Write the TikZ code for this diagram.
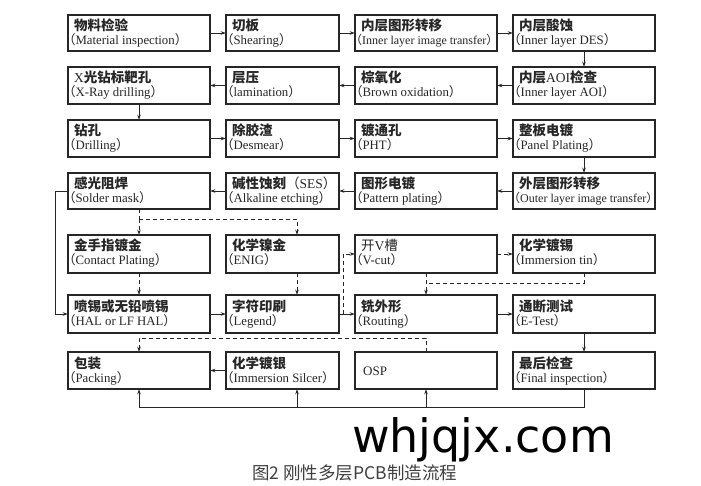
\documentclass[tikz,border=0pt]{standalone}
\usepackage{fontspec}
\setmainfont{Liberation Serif}
\newfontfamily\cjk{Noto Sans CJK SC}
\newfontfamily\cjkh[RawFeature=+halt]{Noto Sans CJK SC}
\newfontfamily\wmfont{DejaVu Sans}
\usetikzlibrary{arrows.meta}
\newcommand\lp{{\cjkh\mdseries （}}
\newcommand\rp{{\cjkh\mdseries ）}}
\newcommand\lat[1]{{\rmfamily\mdseries #1}}
\tikzset{
 pbox/.style={draw=black!85, line width=1.1pt, inner sep=0pt, outer sep=0pt, fill=white},
 zht/.style={inner sep=0pt, font=\cjk\bfseries\fontsize{13.5}{14}\selectfont, text=black!85},
 ent/.style={inner sep=0pt, font=\rmfamily, text=black!85},
 link/.style={draw=black!85, line width=0.8pt},
 arr/.style={link, -{Stealth[length=5.5pt,width=3.6pt]}},
 dsh/.style={dash pattern=on 4pt off 3pt},
}
% [en size] name, x1, y1, x2, y2, zh, en
\newcommand\pstep[8][12.8]{%
  \node[pbox, minimum width=#5pt-#3pt, minimum height=#6pt-#4pt] (#2) at ({(#3+#5)/2},{(#4+#6)/2}) {};
  \node[zht, anchor=base west] (#2-zh) at ([xshift=6pt,yshift=-16pt]#2.north west) {#7};
  \node[ent, anchor=base west] (#2-en) at ([xshift=1pt,yshift=-30pt]#2.north west) {\fontsize{#1}{13}\selectfont\lp#8\rp};
}
\begin{document}
\begin{tikzpicture}[x=1pt,y=-1pt]
\fill[white] (0,0) rectangle (701,486);
\useasboundingbox (0,0) rectangle (701,486);
% row 1
\pstep{mi}{68}{15}{210}{51}{物料检验}{Material inspection}
\pstep{sh}{226}{15}{339}{51}{切板}{Shearing}
\pstep[12]{ilit}{355}{15}{497}{51}{内层图形转移}{Inner layer image transfer}
\pstep{des}{513}{15}{655}{51}{内层酸蚀}{Inner layer DES}
% row 2
\pstep{xr}{68}{67}{210}{104}{\lat{X}光钻标靶孔}{X-Ray drilling}
\pstep{lam}{226}{67}{339}{104}{层压}{lamination}
\pstep{bo}{355}{67}{497}{104}{棕氧化}{Brown oxidation}
\pstep{aoi}{513}{67}{655}{104}{内层\lat{AOI}检查}{Inner layer AOI}
% row 3
\pstep{dr}{68}{120}{210}{157}{钻孔}{Drilling}
\pstep{dsm}{226}{120}{339}{157}{除胶渣}{Desmear}
\pstep{pht}{355}{120}{497}{157}{镀通孔}{PHT}
\pstep{pp}{513}{120}{655}{157}{整板电镀}{Panel Plating}
% row 4
\pstep{sm}{68}{173}{210}{209}{感光阻焊}{Solder mask}
\pstep{ae}{226}{173}{339}{209}{碱性蚀刻{\mdseries（}\lat{SES}{\mdseries）}}{Alkaline etching}
\pstep{pat}{355}{173}{497}{209}{图形电镀}{Pattern plating}
\pstep[12]{olit}{513}{173}{655}{209}{外层图形转移}{Outer layer image transfer}
% row 5
\pstep{cp}{68}{235}{210}{273}{金手指镀金}{Contact Plating}
\pstep{enig}{226}{235}{339}{273}{化学镍金}{ENIG}
\pstep{vc}{355}{235}{497}{273}{\mdseries 开\lat{V}槽}{V-cut}
\pstep{it}{513}{235}{655}{273}{化学镀锡}{Immersion tin}
% row 6
\pstep{hal}{68}{295}{210}{333}{喷锡或无铅喷锡}{HAL or LF HAL}
\pstep{leg}{226}{295}{339}{333}{字符印刷}{Legend}
\pstep{rt}{355}{295}{497}{333}{铣外形}{Routing}
\pstep{et}{513}{295}{655}{333}{通断测试}{E-Test}
% row 7
\pstep{pk}{68}{352}{210}{389}{包装}{Packing}
\pstep{isl}{226}{352}{339}{389}{化学镀银}{Immersion Silcer}
\node[pbox, minimum width=142pt, minimum height=37pt] (osp) at (426,370.5) {};
\node[ent, font=\rmfamily\fontsize{13}{14}\selectfont, anchor=base west] (osp-t) at ([xshift=8pt]osp.west) [yshift=-4.5pt] {OSP};
\pstep{fi}{513}{352}{655}{389}{最后检查}{Final inspection}
% row 1 links
\draw[arr] (mi) -- (sh);
\draw[arr] (sh) -- (ilit);
\draw[arr] (ilit) -- (des);
\draw[arr] (des) -- (aoi);
% row 2 links
\draw[arr] (aoi) -- (bo);
\draw[arr] (bo) -- (lam);
\draw[arr] (lam) -- (xr);
\draw[arr] (xr) -- (dr);
% row 3 links
\draw[arr] (dr) -- (dsm);
\draw[arr] (dsm) -- (pht);
\draw[arr] (pht) -- (pp);
\draw[arr] (pp) -- (olit);
% row 4 links
\draw[arr] (olit) -- (pat);
\draw[arr] (pat) -- (ae);
\draw[arr] (ae) -- (sm);
\draw[arr] (sm.west) -- ++(-13pt,0) |- (hal.west);
% dashed finishes
\coordinate (sp) at (139,219);
\draw[link,dsh] (sm.south) -- (sp);
\draw[arr,dsh] (sp) -- (cp.north);
\draw[arr,dsh] (sp) -| ([xshift=14.5pt]enig.north);
\draw[arr,dsh] (cp) -- (hal);
\draw[arr,dsh] ([xshift=14.5pt]enig.south) -- ([xshift=14.5pt]leg.north);
% row 6 links
\draw[arr] (hal) -- (leg);
\draw[arr] (leg) -- (rt);
\coordinate (j1) at (343,314);
\draw[arr,dsh] (j1) |- (vc.west);
\draw[arr,dsh] (vc) -- (it);
\draw[arr,dsh] (vc) -- (rt);
\coordinate (j2) at (426,283);
\draw[link,dsh] (it.south) |- (j2);
\draw[arr] (rt) -- (et);
\draw[arr] (et) -- (fi);
% OSP to packing
\draw[arr,dsh] (osp.north) |- ([yshift=14pt]pk.north) -- (pk.north);
\draw[arr] (isl) -- (pk);
% bottom return line
\coordinate (bl) at (139,407);
\draw[link] (fi.south) |- (bl);
\draw[arr] (bl) -- (pk.south);
\draw[arr] ([xshift=14.5pt]isl.south |- bl) -- ([xshift=14.5pt]isl.south);
\draw[arr] (osp.south |- bl) -- (osp.south);
% texts below
\node[inner sep=0pt, anchor=base west, font=\wmfont\fontsize{46}{50}\selectfont, text=black] (wm) at (352,452) {whjqjx.com};
\node[inner sep=0pt, anchor=base west, font=\cjk\fontsize{17.5}{19}\selectfont, text=black!75] (cap) at (252,479) {图2 刚性多层PCB制造流程};
\end{tikzpicture}
\end{document}
